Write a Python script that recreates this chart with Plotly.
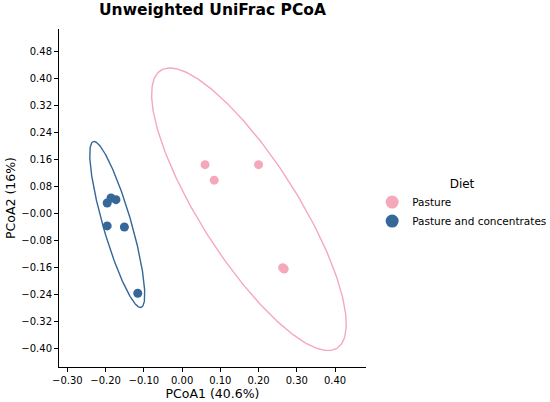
import numpy as np
import plotly.graph_objects as go

# PCoA coordinates
pasture_x = [0.060, 0.084, 0.200, 0.263, 0.267]
pasture_y = [0.145, 0.099, 0.145, -0.161, -0.165]
conc_x = [-0.196, -0.186, -0.173, -0.196, -0.151, -0.116]
conc_y = [0.031, 0.046, 0.041, -0.037, -0.040, -0.237]

groups = ['Pasture', 'Pasture and concentrates']
colors = ['#F5A8BB', '#366799']
# ellipse size in standard deviations, per group
n_std = [2.6, 2.3]

x_ticks = [-0.3, -0.2, -0.1, 0.0, 0.1, 0.2, 0.3, 0.4]
y_ticks = [-0.40, -0.32, -0.24, -0.16, -0.08, 0.0, 0.08, 0.16, 0.24, 0.32, 0.40, 0.48]
y_tick_labels = ['−0.40', '−0.32', '−0.24', '−0.16', '−0.08', '−0.00',
                 '0.08', '0.16', '0.24', '0.32', '0.40', '0.48']


def cov_ellipse(x, y, k, npts=300):
    x = np.asarray(x)
    y = np.asarray(y)
    cov = np.cov(x, y)
    vals, vecs = np.linalg.eigh(cov)
    t = np.linspace(0, 2 * np.pi, npts)
    circ = np.vstack([np.cos(t), np.sin(t)]) * (k * np.sqrt(vals))[:, None]
    pts = vecs @ circ
    return pts[0] + x.mean(), pts[1] + y.mean()


fig = go.Figure()
data = [(pasture_x, pasture_y), (conc_x, conc_y)]
for (gx, gy), name, col, k in zip(data, groups, colors, n_std):
    ex, ey = cov_ellipse(gx, gy, k)
    fig.add_trace(go.Scatter(x=ex, y=ey, mode='lines', line=dict(color=col, width=1.4),
                             showlegend=False, hoverinfo='skip'))
    fig.add_trace(go.Scatter(x=gx, y=gy, mode='markers', name=name,
                             marker=dict(color=col, size=9), showlegend=False))
    # bigger legend markers
    fig.add_trace(go.Scatter(x=[None], y=[None], mode='markers', name=name,
                             marker=dict(color=col, size=13)))

fig.update_layout(
    width=550, height=402,
    margin=dict(l=59, r=184, t=29, b=35, autoexpand=False),
    plot_bgcolor='white', paper_bgcolor='white',
    font=dict(family='DejaVu Sans', color='black', size=10),
    title=dict(text='<b>Unweighted UniFrac PCoA</b>', x=0.5, xref='paper',
               y=0.99, yanchor='top', font=dict(size=15.5)),
    legend=dict(title=dict(text='Diet', side='top center', font=dict(size=12)),
                x=1.02, y=0.577, xanchor='left', yanchor='top',
                font=dict(size=10.5), tracegroupgap=0, itemwidth=30),
)
fig.update_xaxes(range=[-0.322, 0.481], tickvals=x_ticks, tickformat='.2f',
                 showgrid=False, zeroline=False, showline=True, linecolor='black',
                 linewidth=1, ticks='outside', ticklen=4, tickcolor='black',
                 tickfont=dict(size=10), automargin=False,
                 title=dict(text='PCoA1 (40.6%)', font=dict(size=12.5), standoff=3))
fig.update_yaxes(range=[-0.456, 0.548], tickvals=y_ticks, ticktext=y_tick_labels,
                 showgrid=False, zeroline=False, showline=True, linecolor='black',
                 linewidth=1, ticks='outside', ticklen=4, tickcolor='black',
                 tickfont=dict(size=10), automargin=False,
                 title=dict(text='PCoA2 (16%)', font=dict(size=12.5), standoff=2))

# drop the default page margin so the figure sits at the window's corner
fig.write_html("out.html", config={'displayModeBar': False},
               post_script="document.body.style.margin = '0px';")
